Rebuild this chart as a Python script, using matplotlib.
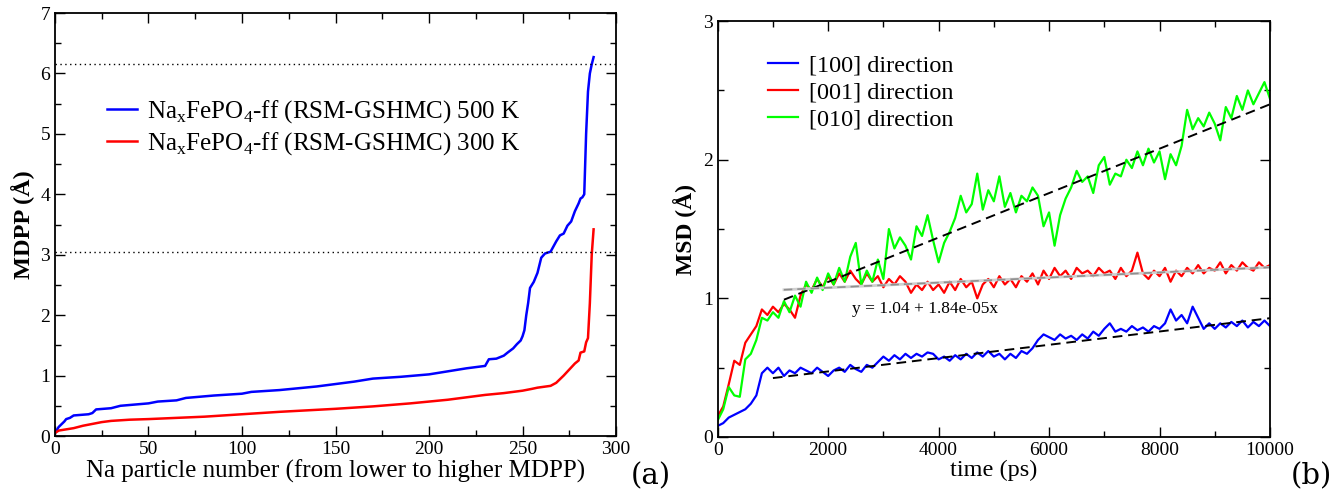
import numpy as np
import matplotlib
matplotlib.use("Agg")
import matplotlib.pyplot as plt
from matplotlib.ticker import MultipleLocator

plt.rcParams['font.family'] = ['Liberation Serif', 'DejaVu Serif']
plt.rcParams['mathtext.fontset'] = 'custom'
plt.rcParams['mathtext.rm'] = 'Liberation Serif'

# ---------------- Panel (a) data ----------------
blue_n = [0, 2, 5, 6, 8, 10, 18, 20, 22, 30, 35, 50, 55, 65, 70, 85, 100, 105, 120, 130,
          140, 150, 160, 170, 185, 200, 210, 220, 230, 232, 236, 240, 242, 245, 247, 249,
          250, 251, 252, 253, 254, 256, 258, 260, 262, 265, 268, 270, 272, 274, 276, 278,
          280, 281, 282, 283, 284, 285, 286, 287, 288]
blue_mdpp = [0.05, 0.15, 0.24, 0.28, 0.30, 0.34, 0.36, 0.38, 0.44, 0.46, 0.50, 0.54, 0.57, 0.59,
             0.63, 0.67, 0.70, 0.73, 0.76, 0.79, 0.82, 0.86, 0.90, 0.95, 0.98, 1.02, 1.07, 1.12,
             1.16, 1.27, 1.28, 1.33, 1.38, 1.45, 1.52, 1.58, 1.65, 1.75, 2.0, 2.2, 2.45, 2.55,
             2.70, 2.95, 3.02, 3.05, 3.22, 3.32, 3.35, 3.48, 3.55, 3.72, 3.85, 3.93, 3.95, 4.0,
             5.0, 5.7, 6.0, 6.15, 6.27]
red_n = [0, 2, 10, 15, 20, 25, 30, 40, 50, 80, 100, 120, 150, 170, 190, 200, 210, 220, 230,
         240, 250, 255, 258, 265, 268, 272, 275, 278, 280, 281, 283, 284, 285, 286, 287, 288]
red_mdpp = [0.05, 0.09, 0.13, 0.17, 0.20, 0.23, 0.25, 0.27, 0.28, 0.32, 0.36, 0.40, 0.45, 0.49,
            0.54, 0.57, 0.60, 0.64, 0.68, 0.71, 0.75, 0.78, 0.80, 0.83, 0.88, 1.00, 1.10, 1.20,
            1.25, 1.38, 1.40, 1.55, 1.62, 2.2, 3.0, 3.42]
ref_levels = [6.15, 3.05]

# ---------------- Panel (b) data (sampled every 100 ps, 0..10000 ps) ----------------
msd_010 = [0.12, 0.20, 0.36, 0.30, 0.29, 0.56, 0.60, 0.70, 0.86, 0.84, 0.90, 0.86, 0.98, 0.90,
           1.02, 0.94, 1.12, 1.04, 1.15, 1.06, 1.18, 1.10, 1.22, 1.12, 1.30, 1.40, 1.10, 1.20,
           1.12, 1.28, 1.14, 1.50, 1.36, 1.44, 1.38, 1.28, 1.52, 1.45, 1.60, 1.42, 1.26, 1.40,
           1.48, 1.58, 1.74, 1.62, 1.68, 1.90, 1.64, 1.78, 1.70, 1.88, 1.66, 1.76, 1.62, 1.74,
           1.70, 1.80, 1.74, 1.52, 1.62, 1.38, 1.60, 1.72, 1.80, 1.92, 1.84, 1.88, 1.76, 1.96,
           2.02, 1.82, 1.90, 1.88, 2.00, 1.94, 2.06, 1.96, 2.08, 1.98, 2.06, 1.86, 2.04, 1.96,
           2.10, 2.36, 2.22, 2.30, 2.24, 2.34, 2.26, 2.14, 2.38, 2.30, 2.46, 2.36, 2.50, 2.40,
           2.48, 2.56, 2.44]
msd_001 = [0.15, 0.22, 0.38, 0.55, 0.52, 0.68, 0.74, 0.80, 0.92, 0.88, 0.94, 0.90, 0.96, 0.92,
           0.86, 1.02, 1.10, 1.06, 1.14, 1.08, 1.16, 1.10, 1.18, 1.12, 1.20, 1.14, 1.10, 1.18,
           1.12, 1.16, 1.08, 1.14, 1.10, 1.16, 1.12, 1.04, 1.10, 1.06, 1.12, 1.06, 1.10, 1.04,
           1.12, 1.06, 1.14, 1.08, 1.12, 1.00, 1.10, 1.14, 1.08, 1.16, 1.10, 1.14, 1.08, 1.16,
           1.12, 1.18, 1.10, 1.20, 1.14, 1.22, 1.16, 1.20, 1.14, 1.22, 1.18, 1.20, 1.16, 1.22,
           1.18, 1.20, 1.14, 1.22, 1.16, 1.20, 1.33, 1.18, 1.14, 1.20, 1.16, 1.22, 1.12, 1.20,
           1.16, 1.22, 1.18, 1.24, 1.18, 1.22, 1.20, 1.26, 1.18, 1.24, 1.20, 1.26, 1.22, 1.20,
           1.26, 1.22, 1.24]
msd_100 = [0.08, 0.10, 0.14, 0.16, 0.18, 0.20, 0.24, 0.30, 0.46, 0.50, 0.46, 0.50, 0.44, 0.48,
           0.46, 0.50, 0.48, 0.46, 0.50, 0.47, 0.44, 0.48, 0.50, 0.47, 0.52, 0.49, 0.47, 0.52,
           0.50, 0.54, 0.58, 0.55, 0.59, 0.56, 0.60, 0.57, 0.60, 0.58, 0.61, 0.60, 0.56, 0.58,
           0.55, 0.59, 0.56, 0.60, 0.57, 0.61, 0.58, 0.62, 0.58, 0.60, 0.56, 0.60, 0.57, 0.62,
           0.60, 0.64, 0.70, 0.74, 0.72, 0.70, 0.74, 0.71, 0.73, 0.70, 0.74, 0.71, 0.76, 0.73,
           0.78, 0.82, 0.76, 0.78, 0.76, 0.80, 0.77, 0.79, 0.76, 0.80, 0.78, 0.82, 0.92, 0.84,
           0.88, 0.82, 0.94, 0.86, 0.78, 0.82, 0.78, 0.82, 0.79, 0.83, 0.80, 0.84, 0.79, 0.83,
           0.80, 0.84, 0.80]
t_end = 10000
# linear fits: (intercept, slope, start time)
fit_010 = (0.798, 1.602e-4, 1200)
fit_001 = (1.04, 1.84e-5, 1200)
fit_100 = (0.377, 4.8e-5, 1000)
fit_label = "y = 1.04 + 1.84e-05x"

fig = plt.figure(figsize=(13.34, 4.91), dpi=100)
axa = fig.add_axes([0.0412, 0.112, 0.4206, 0.8615])
axb = fig.add_axes([0.538, 0.110, 0.414, 0.847])

def style(ax):
    ax.tick_params(which='both', direction='in', top=True, right=True, labelsize=14)
    ax.tick_params(which='major', length=7, width=1)
    ax.tick_params(which='minor', length=4, width=1)
    for s in ax.spines.values():
        s.set_linewidth(1.3)

# Panel (a)
axa.plot(blue_n, blue_mdpp, color='#0000ff', lw=1.8,
         label=r"Na$_\mathregular{x}$FePO$_\mathregular{4}$-ff (RSM-GSHMC) 500 K")
axa.plot(red_n, red_mdpp, color='#ff0000', lw=1.8,
         label=r"Na$_\mathregular{x}$FePO$_\mathregular{4}$-ff (RSM-GSHMC) 300 K")
for lv in ref_levels:
    axa.axhline(lv, color='black', ls=(0, (1, 2.5)), lw=1.0)
axa.set_xlim(0, 300)
axa.set_ylim(0, 7)
axa.xaxis.set_major_locator(MultipleLocator(50))
axa.xaxis.set_minor_locator(MultipleLocator(25))
axa.yaxis.set_major_locator(MultipleLocator(1))
axa.yaxis.set_minor_locator(MultipleLocator(0.5))
style(axa)
axa.set_xlabel("Na particle number (from lower to higher MDPP)", fontsize=18, labelpad=1)
axa.set_ylabel("MDPP (Å)", fontsize=17.5, fontweight='bold', labelpad=4)
axa.legend(loc='upper left', bbox_to_anchor=(0.0927, 0.798), frameon=False, fontsize=18,
           handlelength=1.2, handletextpad=0.4, labelspacing=0.2, borderpad=0, borderaxespad=0)
fig.text(0.488, 0.03, "(a)", fontsize=21, ha='center', va='center', family='DejaVu Serif')

# Panel (b)
l1, = axb.plot(np.linspace(0, t_end, len(msd_100)), msd_100, color='#0000ff', lw=1.6,
               label="[100] direction")
l2, = axb.plot(np.linspace(0, t_end, len(msd_001)), msd_001, color='#ff0000', lw=1.6,
               label="[001] direction")
l3, = axb.plot(np.linspace(0, t_end, len(msd_010)), msd_010, color='#00ff00', lw=1.6,
               label="[010] direction")
for (a, b, t0), col in [(fit_010, 'black'), (fit_100, 'black')]:
    xx = np.array([t0, t_end])
    axb.plot(xx, a + b * xx, color=col, ls=(0, (5, 3)), lw=1.4)
a, b, t0 = fit_001
xx = np.array([t0, t_end])
axb.plot(xx, a + b * xx, color='#d0d0d0', lw=2.0)
axb.plot(xx, a + b * xx, color='#909090', ls=(0, (5, 3)), lw=1.2)
axb.text(2430, 0.92, fit_label, fontsize=12.5, va='center', ha='left')
axb.set_xlim(0, 10000)
axb.set_ylim(0, 3)
axb.xaxis.set_major_locator(MultipleLocator(2000))
axb.xaxis.set_minor_locator(MultipleLocator(1000))
axb.yaxis.set_major_locator(MultipleLocator(1))
axb.yaxis.set_minor_locator(MultipleLocator(0.5))
style(axb)
axb.set_xlabel("time (ps)", fontsize=17.5, labelpad=1)
axb.set_ylabel("MSD (Å)", fontsize=17, fontweight='bold', labelpad=4)
axb.legend(handles=[l1, l2, l3], loc='upper left', bbox_to_anchor=(0.0906, 0.92), frameon=False,
           fontsize=17.5, handlelength=1.25, handletextpad=0.45, labelspacing=0.2,
           borderpad=0, borderaxespad=0)
fig.text(0.9985, 0.03, "(b)", fontsize=21, ha='right', va='center', family='DejaVu Serif')

fig.savefig("out.png", dpi=100)
